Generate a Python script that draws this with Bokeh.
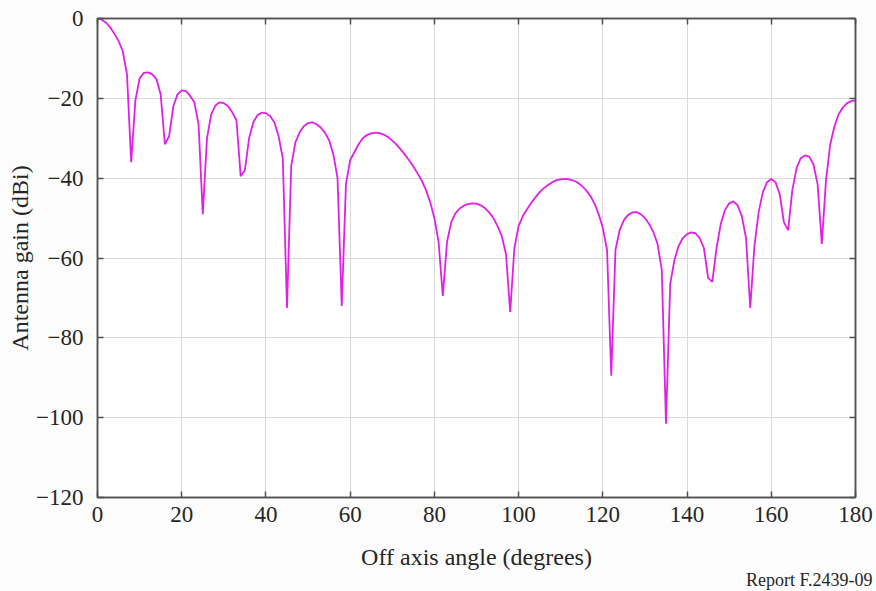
from bokeh.plotting import figure
from bokeh.models import LinearAxis, FixedTicker, Range1d, Title, CustomJSTickFormatter
from bokeh.embed import file_html
from bokeh.resources import INLINE

# ---- data ----
angle_deg = list(range(0, 181))
gain_dbi = [
    0, -0.3, -1.0, -2.2, -3.8, -5.6, -8.2, -14, -36, -20.5,
    -15, -13.6, -13.5, -14, -15.2, -19, -31.5, -29.5, -22, -19,
    -18, -18.2, -19.4, -21, -26.5, -49, -30, -24, -21.8, -21,
    -21.2, -22, -23.5, -25.5, -39.5, -38, -30, -26, -24.2, -23.6,
    -23.7, -24.5, -26, -29.5, -35, -72.5, -37, -31, -28.5, -27,
    -26.2, -26, -26.5, -27.3, -28.6, -30.5, -34, -40, -72, -41.5,
    -35.5, -33.5, -31.5, -30, -29.2, -28.8, -28.6, -28.7, -29.1, -29.7,
    -30.6, -31.6, -32.8, -34.1, -35.5, -37.1, -38.8, -40.6, -43, -46,
    -50, -56, -69.5, -56, -51, -48.8, -47.6, -46.9, -46.5, -46.3,
    -46.4, -46.8, -47.5, -48.6, -50, -52, -54.5, -59, -73.5, -57.5,
    -52, -49.5, -47.8, -46.2, -44.8, -43.5, -42.5, -41.7, -41, -40.5,
    -40.3, -40.2, -40.3, -40.6, -41.1, -41.9, -43, -44.4, -46.3, -49,
    -52.5, -58, -89.5, -58, -53, -50.5, -49.2, -48.6, -48.5, -49,
    -50, -51.5, -53.5, -56.5, -63, -101.5, -66.5, -60.5, -57, -55,
    -54, -53.6, -53.8, -55, -57.5, -65, -66, -57.5, -51.5, -48,
    -46.3, -45.8, -46.8, -49.5, -55, -72.5, -57, -48.5, -43.5, -41,
    -40.2, -41, -44, -51, -53, -43, -37.5, -35, -34.3, -34.6,
    -36.5, -41.5, -56.5, -40.5, -31.5, -27, -24, -22.3, -21.2, -20.7,
    -20.5,
]

x_ticks = [0, 20, 40, 60, 80, 100, 120, 140, 160, 180]
y_ticks = [0, -20, -40, -60, -80, -100, -120]
y_tick_labels = ["0", "\u221220", "\u221240", "\u221260", "\u221280", "\u2212100", "\u2212120"]

x_label = "Off axis angle (degrees)"
y_label = "Antenna gain (dBi)"
source_note = "Report F.2439-09"

FONT = "Liberation Serif"
TXT = "#262626"
FRAME = "#505050"

p = figure(
    frame_width=758, frame_height=479,
    x_range=Range1d(0, 180), y_range=Range1d(-120, 0),
    output_backend="svg", toolbar_location=None,
    x_axis_location=None, y_axis_location=None,
    min_border_left=97, min_border_right=21, min_border_top=18, min_border_bottom=94,
    background_fill_color="white", border_fill_color="#fcfcfc",
)
p.outline_line_color = FRAME
p.outline_line_width = 1.5

def style_axis(ax, ticks, show_labels):
    ax.ticker = FixedTicker(ticks=ticks)
    ax.axis_line_color = FRAME
    ax.axis_line_width = 1.5
    ax.major_tick_line_color = FRAME
    ax.major_tick_line_width = 1.5
    ax.major_tick_in = 6
    ax.major_tick_out = 0
    ax.minor_tick_line_color = None
    ax.major_label_text_font = FONT
    ax.major_label_text_color = TXT
    ax.major_label_text_font_size = "23px"
    if not show_labels:
        ax.formatter = CustomJSTickFormatter(code="return '';")
        ax.major_label_standoff = 0

xb = LinearAxis()
style_axis(xb, x_ticks, True)
xb.major_label_standoff = 9
p.add_layout(xb, "below")

xlabel_title = Title(text=x_label, align="center", standoff=34,
                     text_font=FONT, text_font_size="24px",
                     text_font_style="normal", text_color=TXT)
p.add_layout(xlabel_title, "below")

note_title = Title(text=source_note, align="right", vertical_align="top",
                   offset=-17, standoff=-34,
                   text_font=FONT, text_font_size="18px",
                   text_font_style="normal", text_color=TXT)
p.add_layout(note_title, "below")

yl = LinearAxis(axis_label=y_label)
style_axis(yl, y_ticks, True)
yl.major_label_overrides = {t: s for t, s in zip(y_ticks, y_tick_labels)}
yl.major_label_standoff = 14
yl.axis_label_standoff = 0
yl.axis_label_text_font = FONT
yl.axis_label_text_font_style = "normal"
yl.axis_label_text_font_size = "24px"
yl.axis_label_text_color = TXT
p.add_layout(yl, "left")

xt = LinearAxis()
style_axis(xt, x_ticks, False)
p.add_layout(xt, "above")

yr = LinearAxis()
style_axis(yr, y_ticks, False)
p.add_layout(yr, "right")

p.xgrid.ticker = FixedTicker(ticks=x_ticks)
p.ygrid.ticker = FixedTicker(ticks=y_ticks)
p.grid.grid_line_color = "#d9d9d9"
p.grid.grid_line_width = 1

p.line(angle_deg, gain_dbi, line_color="#e020e6", line_width=1.8)

open("out.html", "w").write(file_html(p, INLINE))
